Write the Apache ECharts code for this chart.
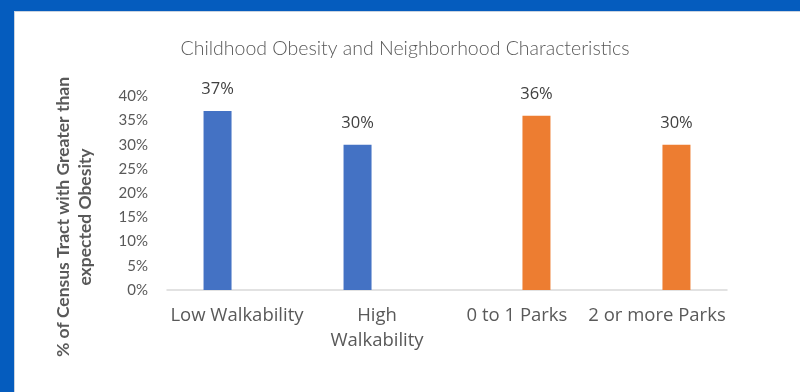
<!DOCTYPE html>
<html><head><meta charset="utf-8">
<script src="https://cdn.jsdelivr.net/npm/echarts@6/dist/echarts.min.js"></script>
<style>
html,body{margin:0;padding:0;background:#fff;}
#frame{position:absolute;left:0;top:0;width:800px;height:392px;background:#055CBE;}
#inner{position:absolute;left:14px;top:11px;width:786px;height:381px;background:#fff;border-left:1.5px solid #C9D3E0;border-top:1.5px solid #C9D3E0;box-sizing:border-box;}
#chart{position:absolute;left:0;top:0;width:800px;height:392px;}
</style></head>
<body>
<div id="frame"><div id="inner"></div></div>
<div id="chart"></div>
<script>
const titleText = 'Childhood Obesity and Neighborhood Characteristics';
const categories = ['Low Walkability', 'High\nWalkability', '0 to 1 Parks', '2 or more Parks'];
const walkabilityValues = [37, 30, null, null];
const parksValues = [null, null, 36, 30];
const yMax = 40, yStep = 5;
const yAxisTitle = '% of Census Tract with Greater than\nexpected Obesity';

const FONT = 'Lato';
const FONT2 = '"Open Sans"';
const chart = echarts.init(document.getElementById('chart'), null, {renderer: 'canvas'});
const labelOpt = {show: true, position: 'top', distance: 13, formatter: p => p.value + '%',
  color: '#404040', fontSize: 16.5, fontFamily: FONT2};
chart.setOption({
  backgroundColor: 'transparent',
  animation: false,
  title: {text: titleText, left: 400, top: 34, textAlign: 'center',
    textStyle: {fontFamily: FONT, fontWeight: 300, fontSize: 19.5, color: '#595959'}},
  grid: {left: 167, right: 73, top: 96.4, bottom: 102, containLabel: false},
  xAxis: {type: 'category', data: categories,
    axisLine: {lineStyle: {color: '#D9D9D9', width: 1.5}},
    axisTick: {show: false},
    axisLabel: {color: '#595959', fontSize: 18.5, fontFamily: FONT2, margin: 13, lineHeight: 25, interval: 0}},
  yAxis: {type: 'value', min: 0, max: yMax, interval: yStep,
    axisLine: {show: false}, axisTick: {show: false}, splitLine: {show: false},
    axisLabel: {formatter: v => v + '%', color: '#595959', fontSize: 15, fontFamily: FONT, margin: 19}},
  graphic: [{type: 'text', x: 74, y: 217, rotation: Math.PI / 2,
    style: {text: yAxisTitle, fill: '#595959', font: 'bold 17.5px ' + FONT,
      align: 'center', verticalAlign: 'middle', lineHeight: 22}}],
  series: [
    {type: 'bar', data: walkabilityValues, barWidth: 28, barGap: '39%',
      itemStyle: {color: '#4472C4'}, label: labelOpt},
    {type: 'bar', data: parksValues, barWidth: 28,
      itemStyle: {color: '#ED7D31'}, label: labelOpt}
  ]
});
</script>
</body></html>
